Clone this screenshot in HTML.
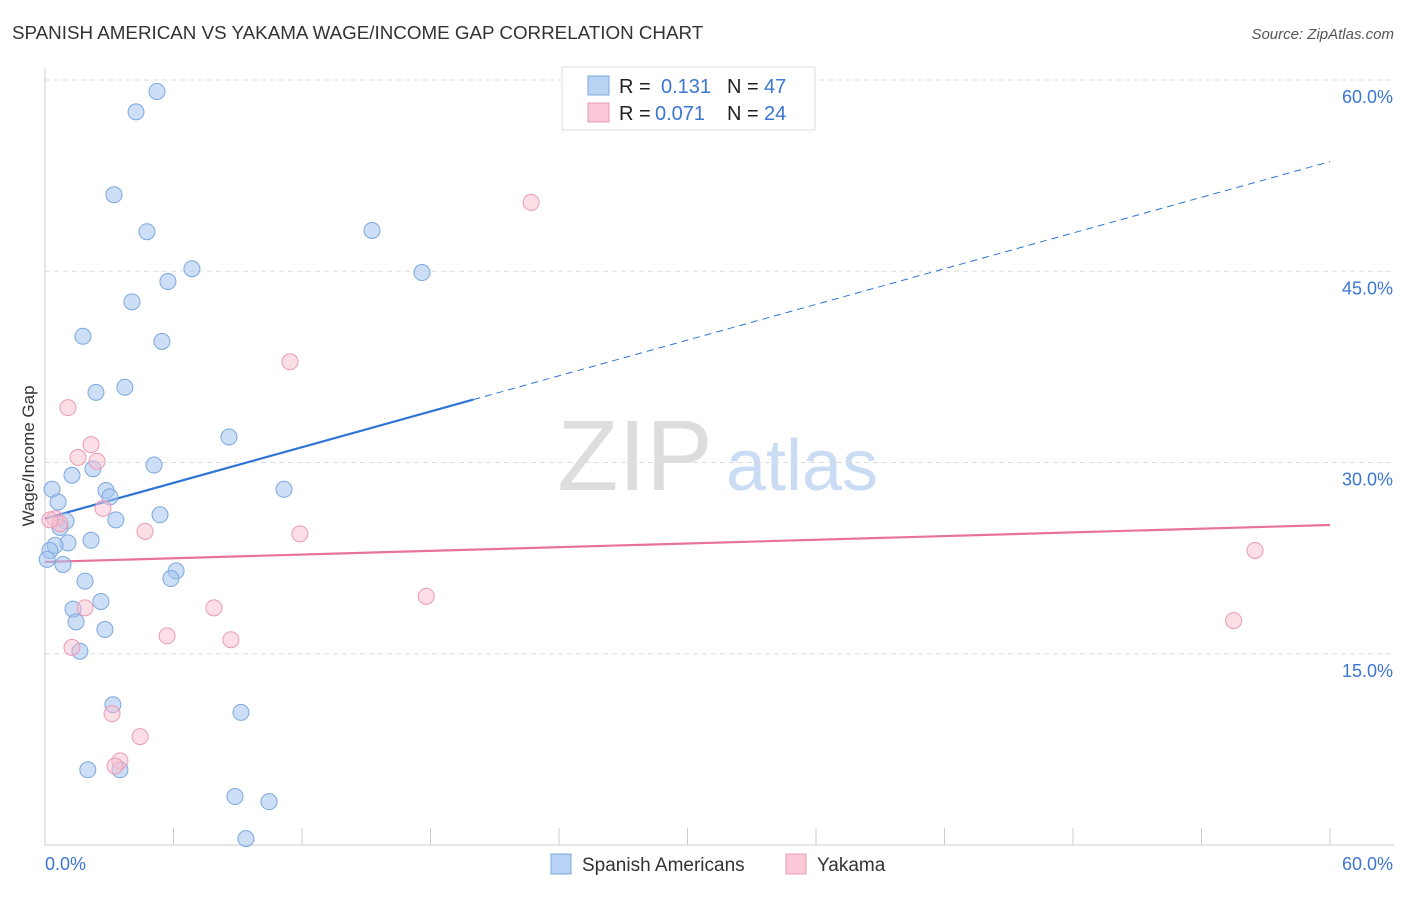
<!DOCTYPE html>
<html><head><meta charset="utf-8"><style>
body{margin:0;background:#fff;font-family:"Liberation Sans",sans-serif;}
svg text{font-family:"Liberation Sans",sans-serif;}
</style></head><body>
<svg id="chart" width="1406" height="892" xmlns="http://www.w3.org/2000/svg">
<text x="12" y="39" font-size="18.8" fill="#333">SPANISH AMERICAN VS YAKAMA WAGE/INCOME GAP CORRELATION CHART</text>
<text x="1394" y="39" font-size="15" fill="#555" font-style="italic" text-anchor="end">Source: ZipAtlas.com</text>
<text transform="translate(34,456) rotate(-90)" font-size="17" fill="#333" text-anchor="middle">Wage/Income Gap</text>
<g>
<text x="635" y="490" font-size="100" fill="#ddd" font-family="Liberation Serif,serif" text-anchor="middle">ZIP</text>
<text x="802" y="490" font-size="72" fill="#c9dcf3" text-anchor="middle">atlas</text>
</g>
<g id="grid"></g><g id="trend"></g><g id="pts"></g>
<g>
<rect x="562" y="67" width="253" height="63" fill="#fff" stroke="#ddd"/>
<rect x="588" y="76" width="21" height="19" fill="#b9d3f5" stroke="#7ba7e0"/>
<rect x="588" y="103" width="21" height="19" fill="#fbc8d7" stroke="#eb9ab4"/>
<text x="619" y="93" font-size="20" fill="#222">R =</text><text x="661" y="93" font-size="20" fill="#3b76d1">0.131</text>
<text x="727" y="93" font-size="20" fill="#222">N =</text><text x="764" y="93" font-size="20" fill="#3b76d1">47</text>
<text x="619" y="120" font-size="20" fill="#222">R =</text><text x="655" y="120" font-size="20" fill="#3b76d1">0.071</text>
<text x="727" y="120" font-size="20" fill="#222">N =</text><text x="764" y="120" font-size="20" fill="#3b76d1">24</text>
</g>
<g>
<rect x="551" y="854" width="20" height="20" fill="#b9d3f5" stroke="#7ba7e0"/>
<text x="582" y="871" font-size="19" fill="#333">Spanish Americans</text>
<rect x="786" y="854" width="20" height="20" fill="#fbc8d7" stroke="#eb9ab4"/>
<text x="817" y="871" font-size="19" fill="#333">Yakama</text>
</g>
</svg>
<script>
const blueX=[5.23,4.25,3.22,4.76,15.27,6.86,5.74,17.6,4.06,1.77,5.46,3.73,2.38,8.59,5.09,2.24,1.26,0.33,2.85,11.16,3.03,0.61,5.37,3.31,0.98,0.70,2.15,1.07,0.47,0.23,0.84,6.12,5.88,1.87,2.61,1.31,1.45,2.80,1.63,3.17,9.15,2.0,3.5,8.87,10.46,9.38,0.1];
const blueY=[59.1,57.5,51.0,48.1,48.2,45.2,44.2,44.9,42.6,39.9,39.5,35.9,35.5,32.0,29.8,29.5,29.0,27.9,27.8,27.9,27.3,26.9,25.9,25.5,25.4,24.9,23.9,23.7,23.5,23.1,22.0,21.5,20.9,20.7,19.1,18.5,17.5,16.9,15.2,11.0,10.4,5.9,5.9,3.8,3.4,0.5,22.4];
const pinkX=[22.7,11.44,1.07,2.15,1.54,2.43,2.71,0.47,0.7,4.67,11.9,56.5,17.8,7.89,1.87,55.5,5.7,8.68,1.26,3.13,4.44,3.5,3.27,0.23];
const pinkY=[50.4,37.9,34.3,31.4,30.4,30.1,26.4,25.6,25.2,24.6,24.4,23.1,19.5,18.6,18.6,17.6,16.4,16.1,15.5,10.3,8.5,6.6,6.2,25.5];
const blueTrend=[25.6,53.6]; // y at x=0 and x=60
const pinkTrend=[22.2,25.1];
const yTicks=[15,30,45,60];
const yTickLabels=["15.0%","30.0%","45.0%","60.0%"];
const xTicks=[0,6,12,18,24,30,36,42,48,54,60];
const NS="http://www.w3.org/2000/svg";
const X=v=>45+v*(1285/60), Y=v=>845-v*(765/60);
function mk(p,t,a){const e=document.createElementNS(NS,t);for(const k in a)e.setAttribute(k,a[k]);document.getElementById(p).appendChild(e);return e;}
yTicks.forEach((t,i)=>{
 const l=mk('grid','line',{x1:45,x2:1394,y1:Y(t),y2:Y(t),stroke:'#ddd','stroke-dasharray':'5,4'});
 
 
 const tx=mk('grid','text',{x:1393,y:Y(t)+23,'font-size':18,fill:'#3b76d1','text-anchor':'end'});tx.textContent=yTickLabels[i];
 
 
});
const ax=mk('grid','line',{x1:45,x2:45,y1:68,y2:845,stroke:'#ccc'});


const bx=mk('grid','line',{x1:45,x2:1394,y1:845,y2:845,stroke:'#ccc'});


xTicks.forEach(t=>{const tk=mk('grid','line',{x1:X(t),x2:X(t),y1:828,y2:845,stroke:'#ccc'});
 
 });
const xl0=mk('grid','text',{x:45,y:870,'font-size':18,fill:'#3b76d1'});xl0.textContent='0.0%';


const xl1=mk('grid','text',{x:1393,y:870,'font-size':18,fill:'#3b76d1','text-anchor':'end'});xl1.textContent='60.0%';


function tv(tr,x){return tr[0]+(tr[1]-tr[0])*x/60;}
const bs=mk('trend','line',{x1:X(0),y1:Y(tv(blueTrend,0)),x2:X(20),y2:Y(tv(blueTrend,20)),stroke:'#2f74d6','stroke-width':2.2});


const bd=mk('trend','line',{x1:X(20),y1:Y(tv(blueTrend,20)),x2:X(60),y2:Y(tv(blueTrend,60)),stroke:'#2f74d6','stroke-width':1,'stroke-dasharray':'7,5'});


const pl=mk('trend','line',{x1:X(0),y1:Y(tv(pinkTrend,0)),x2:X(60),y2:Y(tv(pinkTrend,60)),stroke:'#e8729a','stroke-width':2.2});


blueX.forEach((x,i)=>{const c=mk('pts','circle',{cx:X(x),cy:Y(blueY[i]),r:8,fill:'rgba(164,196,238,0.55)',stroke:'#7ba7e0','stroke-width':1});
 
 });
pinkX.forEach((x,i)=>{const c=mk('pts','circle',{cx:X(x),cy:Y(pinkY[i]),r:8,fill:'rgba(250,190,208,0.5)',stroke:'#eb9ab4','stroke-width':1});
 
 });
</script>
</body></html>
